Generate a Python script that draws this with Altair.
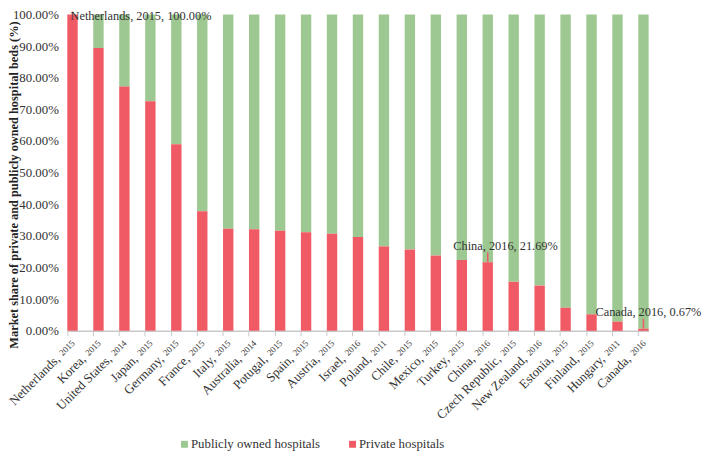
import altair as alt
import pandas as pd

countries = ["Netherlands", "Korea", "United States", "Japan", "Germany", "France",
             "Italy", "Australia", "Potugal", "Spain", "Austria", "Israel", "Poland",
             "Chile", "Mexico", "Turkey", "China", "Czech Republic", "New Zealand",
             "Estonia", "Finland", "Hungary", "Canada"]
years = ["2015", "2015", "2014", "2015", "2015", "2015", "2015", "2014", "2015", "2015",
         "2015", "2016", "2011", "2015", "2015", "2015", "2016", "2015", "2016", "2015",
         "2015", "2011", "2016"]
private_share = [100.0, 89.4, 77.2, 72.6, 59.0, 37.8, 32.3, 32.1, 31.6, 31.2, 30.7,
                 29.7, 26.7, 25.7, 23.8, 22.4, 21.69, 15.5, 14.3, 7.3, 5.2, 2.9, 0.67]
series_names = ["Publicly owned hospitals", "Private hospitals"]
series_colors = ["#9DC891", "#F05A64"]
y_ticks = [0, 10, 20, 30, 40, 50, 60, 70, 80, 90, 100]
annotated = ["Netherlands", "China", "Canada"]

FONT = "Liberation Serif"
RED = "#F05A64"
Y_TITLE = "Market share of private and publicly owned hospital beds (%)"

df = pd.DataFrame({"country": countries, "year": years, "private": private_share})
base = alt.Chart(df)

x_scale = alt.Scale(domain=countries, paddingInner=0.6, paddingOuter=0)
x_axis = alt.Axis(labels=False, title=None, bandPosition=0, grid=False,
                  domainColor="#c8c8c8", tickColor="#c8c8c8", tickSize=5,
                  domainWidth=1.5)
y_scale = alt.Scale(domain=[0, 100], nice=False)
y_axis = alt.Axis(values=y_ticks, labelExpr="format(datum.value, '.2f') + '%'",
                  labelOverlap=False, domain=False, ticks=False, grid=False, labelPadding=9,
                  labelFont=FONT, labelFontSize=13, labelColor="#333333",
                  title=Y_TITLE, titleFont=FONT, titleFontSize=12.5, titleFontWeight="bold",
                  titleColor="#222222", titleAngle=270, titleX=-54, titleY=172,
                  titleAlign="center", titleBaseline="middle")


def xe(**kw):
    return alt.X("country:N", sort=countries, scale=x_scale, axis=x_axis, **kw)


def ye(field):
    return alt.Y(field, scale=y_scale, axis=y_axis, title=Y_TITLE)


bars = base.transform_calculate(
    public="100 - datum.private"
).transform_fold(
    ["public", "private"], as_=["key", "value"]
).transform_calculate(
    series="datum.key == 'private' ? 'Private hospitals' : 'Publicly owned hospitals'",
    rank="datum.key == 'private' ? 0 : 1"
).mark_bar().encode(
    x=xe(),
    y=alt.Y("value:Q", stack="zero", scale=y_scale, axis=y_axis, title=Y_TITLE),
    color=alt.Color("series:N", scale=alt.Scale(domain=series_names, range=series_colors),
                    legend=alt.Legend(title=None, orient="none", direction="horizontal",
                                      legendX=112, legendY=428, symbolType="square",
                                      symbolSize=49, symbolStrokeWidth=0,
                                      labelFont=FONT, labelFontSize=13, labelColor="#333333",
                                      columnPadding=26, labelOffset=0)),
    order=alt.Order("rank:Q")
)

y_zero = alt.YDatum(0, scale=y_scale, axis=y_axis, title=Y_TITLE)

year_labels = base.mark_text(angle=315, align="right", baseline="middle", font=FONT,
                             fontSize=9, color="#333333", xOffset=6, yOffset=11).encode(
    x=xe(bandPosition=0),
    y=y_zero,
    text="year:N"
)

country_labels = base.transform_calculate(
    clabel="datum.country + ','"
).mark_text(angle=315, align="right", baseline="middle", font=FONT, fontSize=13,
            color="#333333", xOffset=6, yOffset=11, dx=-22).encode(
    x=xe(bandPosition=0),
    y=y_zero,
    text="clabel:N"
)

ann_base = base.transform_filter(
    alt.FieldOneOfPredicate(field="country", oneOf=annotated)
).transform_calculate(
    alabel="datum.country + ', ' + datum.year + ', ' + format(datum.private, '.2f') + '%'"
)

lines = ann_base.transform_filter("datum.country != 'Netherlands'").mark_rule(
    color=RED, strokeWidth=1.5, y2Offset=-10).encode(
    x=xe(),
    y=ye("private:Q"),
    y2="private:Q"
)

top_tick = ann_base.transform_filter("datum.country == 'Netherlands'").mark_rule(
    color=RED, strokeWidth=1.5, y2Offset=-3).encode(
    x=xe(),
    y=ye("private:Q"),
    y2="private:Q"
)

ann_style = {"Netherlands": dict(align="left", dx=-2, dy=-4, baseline="top"),
             "China": dict(align="center", dx=18, dy=-16, baseline="middle"),
             "Canada": dict(align="center", dx=5, dy=-17, baseline="middle")}

ann_layers = []
for c in annotated:
    st = ann_style[c]
    ann_layers.append(
        ann_base.transform_filter(alt.datum.country == c).mark_text(
            font=FONT, fontSize=12.5, color="#333333", **st).encode(
            x=xe(),
            y=ye("private:Q"),
            text="alabel:N"
        )
    )

chart = alt.layer(bars, year_labels, country_labels, lines, top_tick, *ann_layers).properties(
    width=588, height=320,
    autosize=alt.AutoSizeParams(type="none"),
    padding={"left": 60, "top": 4, "right": 56, "bottom": 120}
).configure_view(stroke=None)

chart.save("out.html", embed_options={"renderer": "svg", "actions": False})
